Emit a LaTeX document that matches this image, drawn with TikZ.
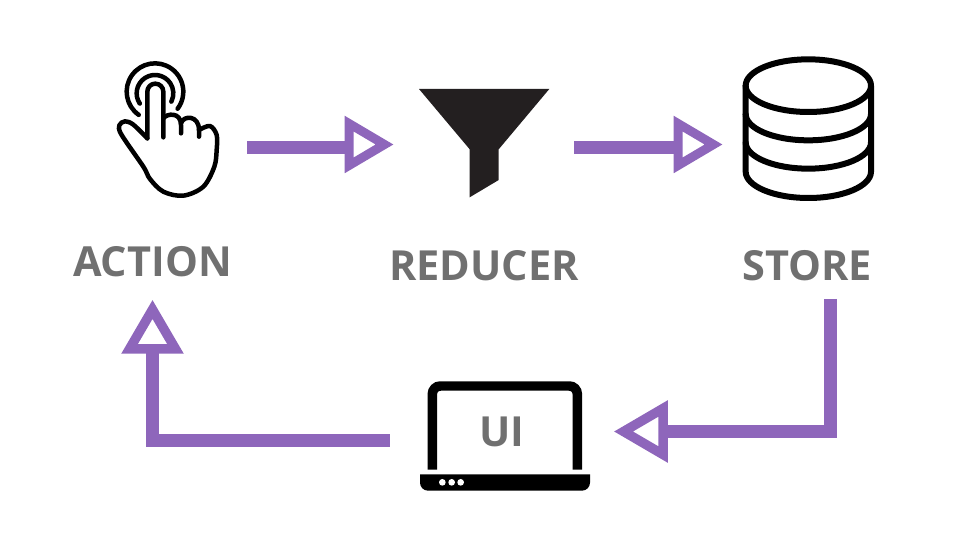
\documentclass[tikz,border=0pt]{standalone}
\usepackage{fontspec}
\setmainfont{Open Sans}
\usetikzlibrary{arrows.meta}
\definecolor{flowpurple}{HTML}{8E66BB}
\definecolor{labelgray}{HTML}{707070}
\definecolor{funnelblack}{HTML}{231F20}
\tikzset{
    iconbox/.style={inner sep=0pt, minimum height=3cm},
    steplabel/.style={anchor=base, inner sep=0pt, text=labelgray, font=\fontsize{23.6}{26}\selectfont\bfseries},
    flow/.style={draw=flowpurple, line width=.25cm, line join=miter},
    widehead/.style={-{Triangle[open, length=.98cm, width=1.1cm, line width=.18cm, color=flowpurple]}},
    bighead/.style={-{Triangle[open, length=1.08cm, width=1.2cm, line width=.19cm, color=flowpurple]}},
    iconline/.style={draw=black, line width=.09cm, line cap=round, line join=round},
}
\begin{document}
\begin{tikzpicture}[x=.02cm, y=-.02cm]

\useasboundingbox (0,0) rectangle (960,540);

% labels
\node[steplabel] (actionlabel) at (152.5,276.5) {ACTION};
\node[steplabel] (reducerlabel) at (484,280.5) {REDUCER};
\node[steplabel] (storelabel) at (807,280.5) {STORE};
\node[steplabel] (uilabel) at (502,446.5) {UI};

% blank boxes round the icons, the arrows end on them
\node[iconbox, minimum width=3.16cm] (action) at (168,147.5) {};
\node[iconbox, minimum width=3.64cm] (reducer) at (483,147.5) {};
\node[iconbox, minimum width=3.48cm] (store) at (808,147.5) {};
\node[iconbox, minimum width=4.47cm] (ui) at (501.75,436) {};

% hand
\begin{scope}[shift={(100,50)}, scale=1/3]
\draw[iconline] (165,125) ++(125:85) arc[start angle=125, end angle=397, radius=85];
\draw[iconline] (165,130) ++(146:55) arc[start angle=146, end angle=387, radius=55];
\draw[iconline] (190,262) -- (190,125) arc[start angle=0, end angle=-180, radius=24] -- (142,265);
\draw[iconline] plot[smooth, tension=.55] coordinates {(142,265) (100,224) (75,214) (58,226) (65,255) (130,350) (150,387) (190,425) (250,437) (310,410) (343,350) (350,300) (350,255) (330,228) (297,240)};
\draw[iconline] (190,205) .. controls (200,190) and (243,185) .. (243,225) -- (243,250);
\draw[iconline] (243,220) .. controls (250,195) and (297,195) .. (297,240) -- (297,260);
\end{scope}

% funnel
\fill[funnelblack] (419,89) -- (549.3,89) -- (498.7,149.3) -- (498.7,180) -- (469.7,197.3) -- (469.7,149.3) -- cycle;

% database
\begin{scope}[shift={(730,50)}, scale=1/3]
\draw[iconline, line width=.12cm] (235,107) ellipse[x radius=188, y radius=79];
\draw[iconline, line width=.12cm] (47,107) -- (47,365) arc[start angle=180, end angle=0, x radius=188, y radius=79] -- (423,107);
\draw[iconline, line width=.12cm] (47,192) arc[start angle=180, end angle=0, x radius=188, y radius=79];
\draw[iconline, line width=.12cm] (47,277) arc[start angle=180, end angle=0, x radius=188, y radius=79];
\end{scope}

% laptop
\begin{scope}[shift={(400,370)}, scale=1/3]
\draw[black, line width=.19cm, rounded corners=.16cm] (97,299) -- (97,48) -- (532,48) -- (532,299);
\fill[black] (60,313) [rounded corners=.16cm] -- (60,362) -- (570,362) [sharp corners] -- (570,313) -- cycle;
\foreach \x in {127,155,182} {
    \fill[white] (\x,337) circle[radius=10];
}
\end{scope}

% arrows, the heads of the upper two sit a little above their shafts
\path[flow, draw, widehead] (action.east) -- ++(100,0) ([xshift=-.9cm, yshift=.06cm]reducer.west) -- ([xshift=.04cm, yshift=.06cm]reducer.west);
\path[flow, draw, widehead] (reducer.east) -- ++(100,0) ([xshift=-.9cm, yshift=.06cm]store.west) -- ([xshift=.04cm, yshift=.06cm]store.west);
\path[flow, draw, bighead] ([xshift=.47cm, yshift=-.35cm]storelabel.south) |- ([yshift=.09cm]ui.east);
\path[flow, draw, bighead] ([yshift=-.09cm]ui.west) -| ([yshift=-.45cm]actionlabel.south);

\end{tikzpicture}
\end{document}
